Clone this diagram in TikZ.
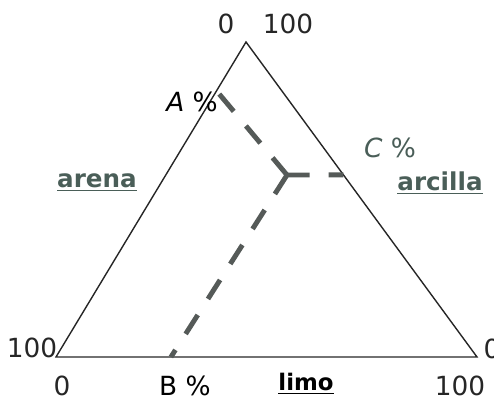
\documentclass[tikz,border=0pt]{standalone}
\usepackage{fontspec}
\setmainfont{DejaVu Sans}
\usetikzlibrary{calc}

\definecolor{slate}{HTML}{4A5E58}
\definecolor{dashgray}{HTML}{555A58}

\begin{document}
\begin{tikzpicture}[
  font=\fontsize{15}{17}\selectfont,
  every node/.style={align=center, inner sep=1pt},
  side/.style={draw=black!85, line width=0.8pt, line join=miter},
  guide/.style={draw=dashgray, line width=2.8pt, dash pattern=on 0.45cm off 0.38cm},
  tick/.style={text=black!85},
  axis/.style={font=\bfseries\fontsize{14}{16}\selectfont, text=slate}
]
\useasboundingbox (0,0) rectangle (9.88,8.06);

% corners of the triangle
\coordinate (bl) at (1.12,0.92);
\coordinate (br) at (9.54,0.92);
\coordinate (top) at (4.92,7.22);

% reading points
\coordinate (a) at ($(bl)!0.845!(top)$);
\coordinate (b) at ($(bl)!0.273!(br)$);
\coordinate (c) at ($(top)!0.422!(br)$);
\coordinate (j) at (5.74,4.56);

\draw[side] (bl) -- (br) -- (top) -- cycle;

\draw[guide] (j) -- (a);
\draw[guide] (j) -- (c);
\draw[guide] (j) -- (b);

% scale values
\node[tick] (t0) at (4.52,7.58) {0};
\node[tick] (t100) at (5.76,7.58) {100};
\node[tick] (l100) at (0.64,1.10) {100};
\node[tick] (r0) at (9.84,1.08) {0};
\node[tick] (b0) at (1.24,0.34) {0};
\node[tick] (b100) at (9.20,0.34) {100};

% readings
\node (pa) at (3.84,6.02) {\textit{A} \%};
\node[text=slate] (pc) at (7.80,5.10) {\textit{C} \%};
\node (pb) at (3.70,0.34) {B \%};

% components
\node[axis] (arena) at (1.94,4.40) {\underline{arena}};
\node[axis] (arcilla) at (8.80,4.40) {\underline{arcilla}};
\node[axis, text=black, font=\bfseries\fontsize{13}{15}\selectfont] (limo) at (6.12,0.38) {\underline{limo}};
\end{tikzpicture}
\end{document}
